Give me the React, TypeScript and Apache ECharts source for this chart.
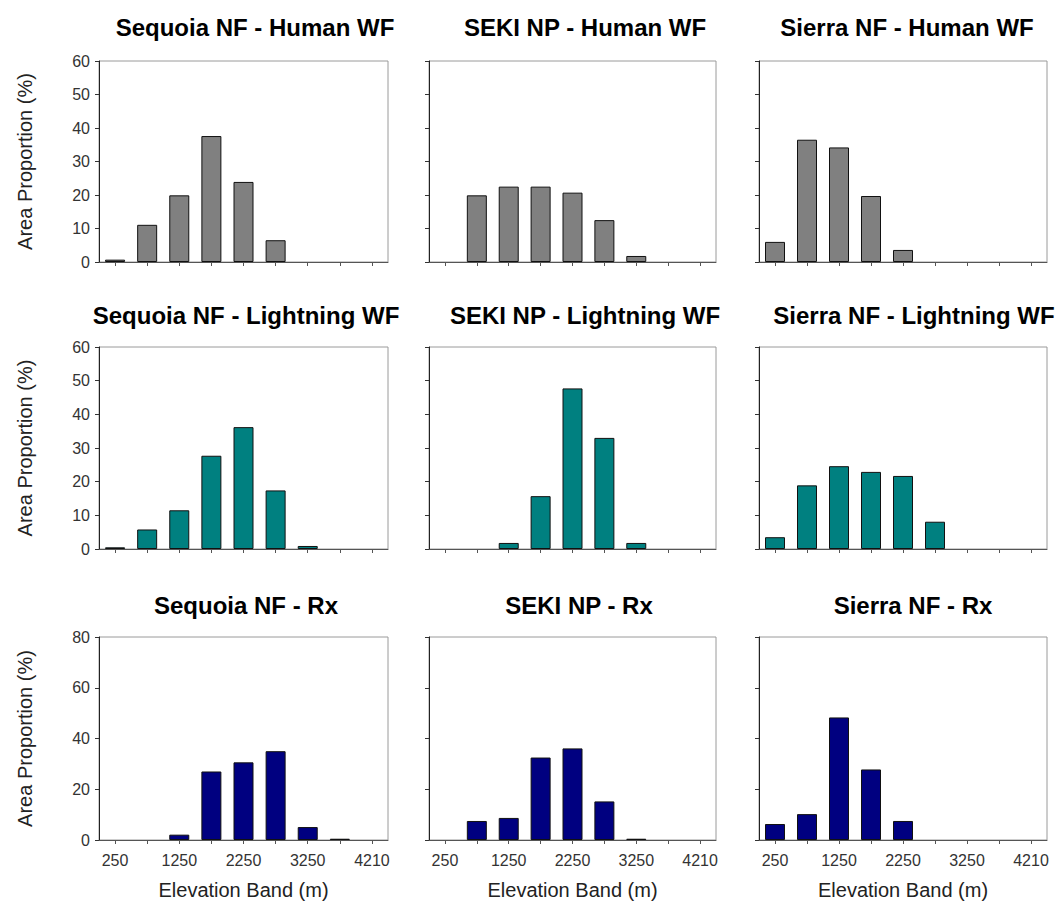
import React, { useEffect, useRef } from "react";
import * as echarts from "echarts";

const categories = ["250", "750", "1250", "1750", "2250", "2750", "3250", "3750", "4210"];

const sequoiaHuman = [0.7, 11.1, 19.9, 37.6, 23.9, 6.5, 0, 0, 0];
const sekiHuman = [0, 19.9, 22.5, 22.5, 20.7, 12.5, 1.8, 0, 0];
const sierraHuman = [6.0, 36.5, 34.2, 19.7, 3.6, 0, 0, 0, 0];

const sequoiaLightning = [0.5, 5.8, 11.5, 27.7, 36.2, 17.4, 0.9, 0, 0];
const sekiLightning = [0, 0, 1.8, 15.7, 47.7, 33.0, 1.8, 0, 0];
const sierraLightning = [3.5, 18.9, 24.6, 22.9, 21.7, 8.1, 0, 0, 0];

const sequoiaRx = [0, 0, 2.1, 27.0, 30.6, 35.0, 5.1, 0.5, 0];
const sekiRx = [0, 7.5, 8.7, 32.5, 36.1, 15.2, 0.5, 0, 0];
const sierraRx = [6.3, 10.2, 48.3, 27.8, 7.5, 0, 0, 0, 0];

const titles = [
  ["Sequoia NF - Human WF", "SEKI NP - Human WF", "Sierra NF - Human WF"],
  ["Sequoia NF - Lightning WF", "SEKI NP - Lightning WF", "Sierra NF - Lightning WF"],
  ["Sequoia NF - Rx", "SEKI NP - Rx", "Sierra NF - Rx"],
];
const panelData = [
  [sequoiaHuman, sekiHuman, sierraHuman],
  [sequoiaLightning, sekiLightning, sierraLightning],
  [sequoiaRx, sekiRx, sierraRx],
];
const rowColors = ["#808080", "#008080", "#000080"];
const rowMax = [60, 60, 80];
const rowInterval = [10, 10, 20];
const yName = "Area Proportion (%)";
const xName = "Elevation Band (m)";

const FONT = "'Liberation Sans', Arial, Helvetica, sans-serif";

const lefts = [99, 429, 759];
const widths = [289, 287, 288];
const tops = [61, 347, 637];
const heights = [201, 202, 203];
const titleX = [
  [255, 585, 907],
  [246, 585, 914],
  [246, 579, 913],
];
const titleY = [27, 315, 605];

export default function App() {
  const ref = useRef<HTMLDivElement>(null);
  useEffect(() => {
    if (!ref.current) return;
    const chart = echarts.init(ref.current, undefined, { renderer: "svg" });
    const grid: any[] = [];
    const xAxis: any[] = [];
    const yAxis: any[] = [];
    const series: any[] = [];
    const graphic: any[] = [];
    for (let r = 0; r < 3; r++) {
      for (let c = 0; c < 3; c++) {
        const i = r * 3 + c;
        grid.push({
          left: lefts[c],
          top: tops[r],
          width: widths[c],
          height: heights[r],
          show: true,
          borderColor: "#9a9a9a",
          borderWidth: 1,
          backgroundColor: "#fff",
        });
        xAxis.push({
          type: "category",
          gridIndex: i,
          data: categories,
          boundaryGap: true,
          name: r === 2 ? xName : "",
          nameLocation: "middle",
          nameGap: 40,
          nameTextStyle: { fontFamily: FONT, fontSize: 20, color: "#222" },
          axisLine: { show: true, lineStyle: { color: "#555", width: 1 } },
          axisTick: { show: true, alignWithLabel: true, interval: 0, length: 4, lineStyle: { color: "#555" } },
          axisLabel: {
            show: r === 2,
            interval: 1,
            margin: 12,
            fontFamily: FONT,
            fontSize: 16,
            color: "#333",
          },
          splitLine: { show: false },
        });
        yAxis.push({
          type: "value",
          gridIndex: i,
          min: 0,
          max: rowMax[r],
          interval: rowInterval[r],
          name: c === 0 ? yName : "",
          nameLocation: "middle",
          nameRotate: 90,
          nameGap: 64,
          nameTextStyle: { fontFamily: FONT, fontSize: 20, color: "#222" },
          axisLine: { show: true, lineStyle: { color: "#222", width: 1 } },
          axisTick: { show: true, length: 4, lineStyle: { color: "#333" } },
          axisLabel: {
            show: c === 0,
            margin: 9,
            fontFamily: FONT,
            fontSize: 16,
            color: "#333",
          },
          splitLine: { show: false },
        });
        series.push({
          type: "bar",
          xAxisIndex: i,
          yAxisIndex: i,
          data: panelData[r][c].map((v) => (v === 0 ? null : v)),
          barWidth: 20,
          itemStyle: { color: rowColors[r], borderColor: "#111", borderWidth: 1 },
        });
        graphic.push({
          type: "text",
          x: titleX[r][c],
          y: titleY[r],
          style: {
            text: titles[r][c],
            textAlign: "center",
            textVerticalAlign: "middle",
            font: `bold 24px ${FONT}`,
            fill: "#000",
          },
        });
      }
    }
    chart.setOption({
      animation: false,
      backgroundColor: "#fff",
      grid,
      xAxis,
      yAxis,
      series,
      graphic,
    });
    return () => chart.dispose();
  }, []);
  return (
    <div
      ref={ref}
      style={{ position: "absolute", left: 0, top: 0, width: 1057, height: 904 }}
    />
  );
}
